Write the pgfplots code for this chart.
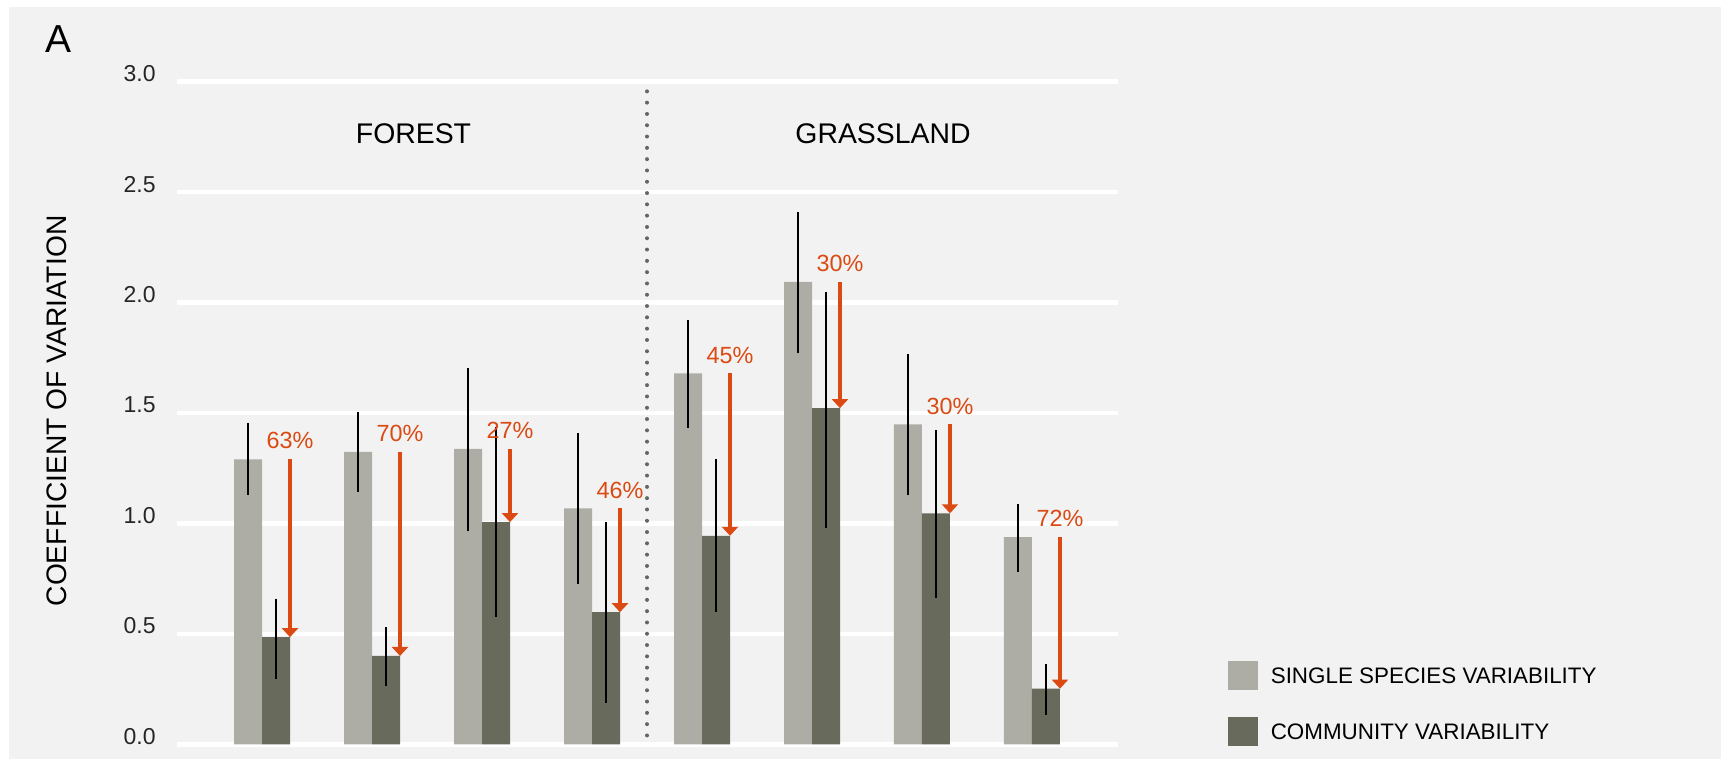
\documentclass[border=0pt]{standalone}
\usepackage{pgfplots}
\pgfplotsset{compat=1.18}
\usepackage{pgfplotstable}
\usepackage{fontspec}
\setmainfont{Liberation Sans}
\usetikzlibrary{arrows.meta}
\definecolor{bgc}{HTML}{F2F2F2}
\definecolor{lightbar}{HTML}{ADADA5}
\definecolor{darkbar}{HTML}{686B5C}
\definecolor{arrowc}{HTML}{DA4A12}
\definecolor{dotc}{HTML}{646660}

\pgfplotstableread{
x light lep   lem   dark  dep   dem   dv     pct
0 1.290 0.165 0.163 0.485 0.175 0.188 -0.805 63
1 1.324 0.181 0.180 0.400 0.130 0.136 -0.924 70
2 1.337 0.368 0.370 1.006 0.429 0.430 -0.331 27
3 1.068 0.342 0.344 0.598 0.408 0.412 -0.470 46
4 1.679 0.242 0.247 0.944 0.349 0.345 -0.735 45
5 2.094 0.314 0.323 1.522 0.525 0.542 -0.572 30
6 1.448 0.321 0.321 1.046 0.378 0.384 -0.402 30
7 0.938 0.152 0.157 0.252 0.113 0.118 -0.686 72
}\datatable

\begin{document}
\begin{tikzpicture}
\useasboundingbox (0,0) rectangle (860.5pt,379.5pt);
\fill[bgc] (4.5pt,0pt) rectangle (860.5pt,376pt);
\node[anchor=base west, inner sep=0pt, font=\fontsize{19.5}{20}\selectfont] at (22.5pt,353pt) {A};
\node[anchor=base, inner sep=0pt, font=\fontsize{14.2}{16}\selectfont] at (206.75pt,307.5pt) {FOREST};
\node[anchor=base, inner sep=0pt, font=\fontsize{14.2}{16}\selectfont] at (441.5pt,307.5pt) {GRASSLAND};
\begin{axis}[
  scale only axis, width=470.5pt, height=331.3pt,
  at={(88.5pt,7.35pt)}, anchor=south west,
  xmin=-0.773, xmax=7.782, ymin=0, ymax=3,
  clip=false,
  axis line style={draw=none},
  xtick=\empty, ytick={0,0.5,1,1.5,2,2.5,3},
  major tick length=0pt,
  ymajorgrids, grid style={white, line width=2.3pt},
  /pgf/number format/assume math mode=true,
  yticklabel style={/pgf/number format/fixed, /pgf/number format/fixed zerofill,
    /pgf/number format/precision=1, font=\fontsize{11.5}{12}\selectfont,
    anchor=base east, inner sep=0pt, xshift=-10.5pt, text=black!85},
  ylabel={COEFFICIENT OF VARIATION},
  ylabel style={at={(axis description cs:-0.1275,0.503)}, anchor=center, inner sep=0pt,
    font=\fontsize{14.1}{16}\selectfont},
  legend style={at={(1.1169,0.1257)}, anchor=north west, draw=none, fill=none,
    inner sep=0pt, outer sep=0pt, font=\fontsize{11.2}{13}\selectfont,
    row sep=13.5pt, column sep=6.5pt, nodes={inner sep=0pt}},
  legend cell align=left,
]
\addlegendimage{legend image code/.code={\fill[lightbar] (0pt,-5.9pt) rectangle (14.5pt,8.1pt);}}
\addlegendentry{SINGLE SPECIES VARIABILITY}
\addlegendimage{legend image code/.code={\fill[darkbar] (0pt,-5.9pt) rectangle (14.5pt,8.1pt);}}
\addlegendentry{COMMUNITY VARIABILITY}

\addplot[forget plot, dotc, line width=2pt, line cap=round, dash pattern=on 0pt off 5.65pt]
  coordinates {(3.5,0.04) (3.5,2.96)};

\addplot[forget plot, ybar, bar width=14pt, bar shift=0pt, fill=lightbar, draw=none,
  error bars/.cd, y dir=both, y explicit, error mark=none,
  error bar style={black, line width=1pt}]
  table[x expr=\thisrow{x}-0.12727, y=light, y error plus=lep, y error minus=lem]{\datatable};

\addplot[forget plot, ybar, bar width=14pt, bar shift=0pt, fill=darkbar, draw=none,
  error bars/.cd, y dir=both, y explicit, error mark=none,
  error bar style={black, line width=1pt}]
  table[x expr=\thisrow{x}+0.12727, y=dark, y error plus=dep, y error minus=dem]{\datatable};

\addplot[forget plot, quiver={u=0, v=\thisrow{dv}}, draw=arrowc, line width=2.3pt,
  -{Triangle[width=8pt,length=4.5pt]}]
  table[x expr=\thisrow{x}+0.2545, y=light]{\datatable};

\addplot[forget plot, draw=none, mark=none, point meta=explicit,
  nodes near coords={\pgfmathprintnumber[fixed,precision=0]{\pgfplotspointmeta}\%},
  nodes near coords style={anchor=base, inner sep=0pt, yshift=5.2pt,
    font=\fontsize{11.7}{12}\selectfont, text=arrowc}]
  table[x expr=\thisrow{x}+0.2545, y=light, meta=pct]{\datatable};
\end{axis}
\end{tikzpicture}
\end{document}
